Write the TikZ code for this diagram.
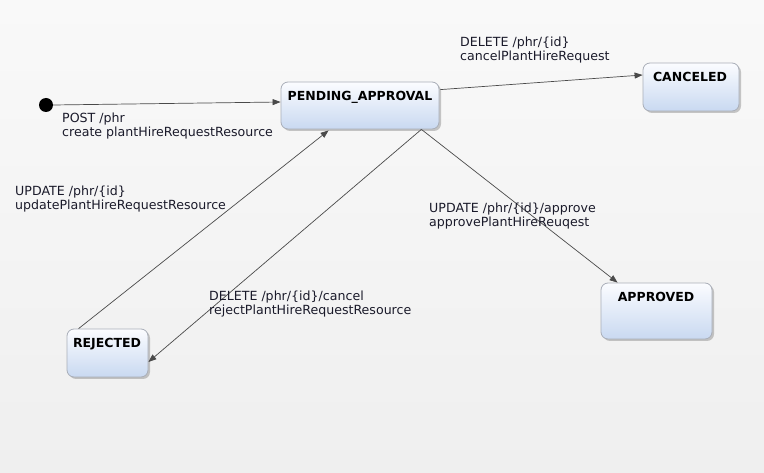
\documentclass[tikz,border=0pt]{standalone}
\usepackage{fontspec}
\setmainfont{DejaVu Sans}
\usetikzlibrary{arrows.meta,shadows,calc}
\definecolor{bgtop}{HTML}{F9F9F9}
\definecolor{bgbot}{HTML}{EFEFEF}
\definecolor{boxtop}{HTML}{FBFCFF}
\definecolor{boxbot}{HTML}{C9D9F1}
\definecolor{boxline}{HTML}{A9AEB8}
\definecolor{edgecol}{HTML}{4A4A4A}
\definecolor{txt}{HTML}{1A1A2A}
\tikzset{
  statebox/.style={draw=boxline, line width=0.8pt, rounded corners=7pt,
    top color=boxtop, bottom color=boxbot, inner sep=0pt,
    drop shadow={shadow xshift=2pt, shadow yshift=-2pt, opacity=0.35, fill=black!60}},
  title/.style={font=\fontsize{12.5}{14}\selectfont\bfseries, text=black, inner sep=0pt, anchor=base},
  lbl/.style={font=\fontsize{12.6}{14}\selectfont, text=txt, align=left, inner sep=0pt, anchor=north west},
  edge/.style={draw=edgecol, line width=0.7pt, -{Triangle[length=8pt,width=6pt]}},
}
\begin{document}
\begin{tikzpicture}[x=1pt,y=-1pt]
\shade[top color=bgtop, bottom color=bgbot] (0,0) rectangle (764,473);
\useasboundingbox (0,0) rectangle (764,473);
% states
\node[statebox, minimum width=158pt, minimum height=47pt] (pa) at (360,105.5) {};
\node[statebox, minimum width=96pt, minimum height=48pt] (ca) at (691,87) {};
\node[statebox, minimum width=111pt, minimum height=56pt] (ap) at (656.5,311) {};
\node[statebox, minimum width=81pt, minimum height=48pt] (rj) at (107.5,353) {};
\node[title] (pat) at (360,101) {PENDING\_APPROVAL};
\node[title] (cat) at (690,82) {CANCELED};
\node[title] (apt) at (656,302) {APPROVED};
\node[title] (rjt) at (107,348) {REJECTED};
% initial
\node[circle, fill=black, minimum size=14pt, inner sep=0pt] (init) at (46,105) {};
% edges
\draw[edge] (init.east) -- ($(pa.west)+(0,-3.5)$);
\draw[edge] ($(pa.north east)+(1,8)$) -- ($(ca.west)+(0,-12)$);
\draw[edge] ($(pa.south east)+(-18,0)$) -- ($(ap.north west)+(17,0)$);
\draw[edge] ($(pa.south east)+(-18,0)$) -- ($(rj.east)+(0,9)$);
\draw[edge] ($(rj.north west)+(12,0)$) -- ($(pa.south west)+(48,1)$);
% labels
\node[lbl] (l1) at (62,113) {POST /phr\\create plantHireRequestResource};
\node[lbl] (l2) at (460,37) {DELETE /phr/\{id\}\\cancelPlantHireRequest};
\node[lbl] (l3) at (429,203) {UPDATE /phr/\{id\}/approve\\approvePlantHireReuqest};
\node[lbl] (l4) at (15,186) {UPDATE /phr/\{id\}\\updatePlantHireRequestResource};
\node[lbl] (l5) at (209,291) {DELETE /phr/\{id\}/cancel\\rejectPlantHireRequestResource};
\end{tikzpicture}
\end{document}
